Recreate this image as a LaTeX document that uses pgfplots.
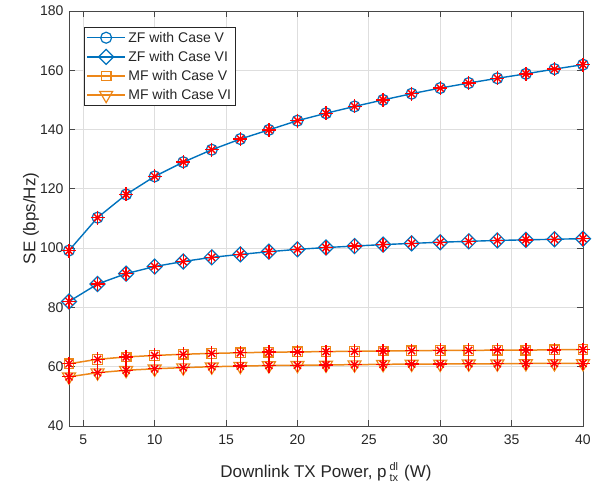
\documentclass[border=0pt]{standalone}
\usepackage{pgfplots}
\pgfplotsset{compat=1.18}
\usepackage{fontspec}
\setmainfont{Liberation Sans}
\definecolor{mblue}{rgb}{0,0.447,0.741}
\definecolor{morange}{rgb}{0.93,0.53,0.10}
\definecolor{axgray}{rgb}{0.15,0.15,0.15}
\pgfplotstableread{
x zfv zfvi mfv mfvi
4 99.2 82.0 61.0 56.6
6 110.3 87.9 62.5 58.0
8 118.1 91.4 63.3 58.8
10 124.2 93.8 63.8 59.3
12 129.0 95.5 64.2 59.7
14 133.2 96.9 64.5 60.0
16 136.8 97.9 64.7 60.2
18 139.9 98.8 64.9 60.4
20 143.0 99.6 65.0 60.5
22 145.5 100.2 65.1 60.6
24 147.8 100.7 65.2 60.7
26 150.0 101.2 65.3 60.8
28 152.1 101.6 65.4 60.9
30 154.0 102.0 65.5 60.9
32 155.7 102.3 65.5 61.0
34 157.3 102.6 65.6 61.0
36 158.8 102.8 65.6 61.1
38 160.4 103.0 65.7 61.1
40 161.9 103.2 65.8 61.1
}\data
\begin{document}
\begin{tikzpicture}
\useasboundingbox (-69pt,-59pt) rectangle (533pt,426pt);
\begin{axis}[
  at={(0,0)}, anchor=south west,
  width=514pt, height=415pt, scale only axis,
  xmin=4, xmax=40, ymin=40, ymax=180,
  xtick={5,10,...,40}, ytick={40,60,...,180},
  tick align=inside,
  major tick length=6pt,
  grid=major,
  grid style={black!13, line width=0.8pt},
  axis line style={axgray!85, line width=0.8pt},
  tick style={axgray!85, line width=0.8pt},
  every tick label/.append style={font=\fontsize{14}{16}\selectfont, text=axgray},
  xticklabel style={yshift=-5pt},
  yticklabel style={xshift=-2pt},
  /pgf/number format/assume math mode=true,
  xlabel={Downlink TX Power, p\,$^{\mbox{\fontsize{11}{12}\selectfont dl}}_{\mbox{\fontsize{11}{12}\selectfont tx}}$\,\,(W)},
  ylabel={SE (bps/Hz)},
  label style={font=\fontsize{17}{19}\selectfont, text=axgray},
  xlabel style={at={(axis description cs:0.5,0)}, anchor=base, yshift=-51pt},
  ylabel style={at={(axis description cs:-0.074,0.5)}, anchor=center},
  legend style={at={(rel axis cs:0,1)}, anchor=north west, xshift=15pt, yshift=-16pt,
    font=\fontsize{14}{16}\selectfont, text=axgray,
    draw=axgray, line width=0.8pt, row sep=2.5pt, inner sep=2pt,
    nodes={inner sep=2.5pt}},
  legend cell align=left,
  legend image code/.code={
    \draw[mark repeat=2,mark phase=2] plot coordinates {(0pt,0pt) (19pt,0pt) (38pt,0pt)};},
]
\addplot[mblue, line width=1.4pt, mark=o, mark size=5.5pt, mark options={line width=1.2pt}] table[y=zfv]{\data};
\addlegendentry{ZF with Case V}
\addplot[mblue, line width=1.4pt, mark=square, mark size=5.3pt, mark options={line width=1.2pt, rotate=45}] table[y=zfvi]{\data};
\addlegendentry{ZF with Case VI}
\addplot[morange, line width=1.5pt, mark=square, mark size=4.8pt, mark options={line width=1.2pt}] table[y=mfv]{\data};
\addlegendentry{MF with Case V}
\addplot[morange, line width=1.5pt, mark=triangle, mark size=7.5pt, mark options={line width=1.2pt, rotate=180}] table[y=mfvi]{\data};
\addlegendentry{MF with Case VI}
\pgfplotsset{every axis plot/.append style={forget plot}}
\foreach \c in {zfv,zfvi,mfv,mfvi}{
  \addplot[red, only marks, mark=+, mark size=7pt, mark options={line width=1.4pt}] table[y=\c]{\data};
  \addplot[red, only marks, mark=x, mark size=5pt, mark options={line width=1.4pt}] table[y=\c]{\data};
}
\end{axis}
\end{tikzpicture}
\end{document}
